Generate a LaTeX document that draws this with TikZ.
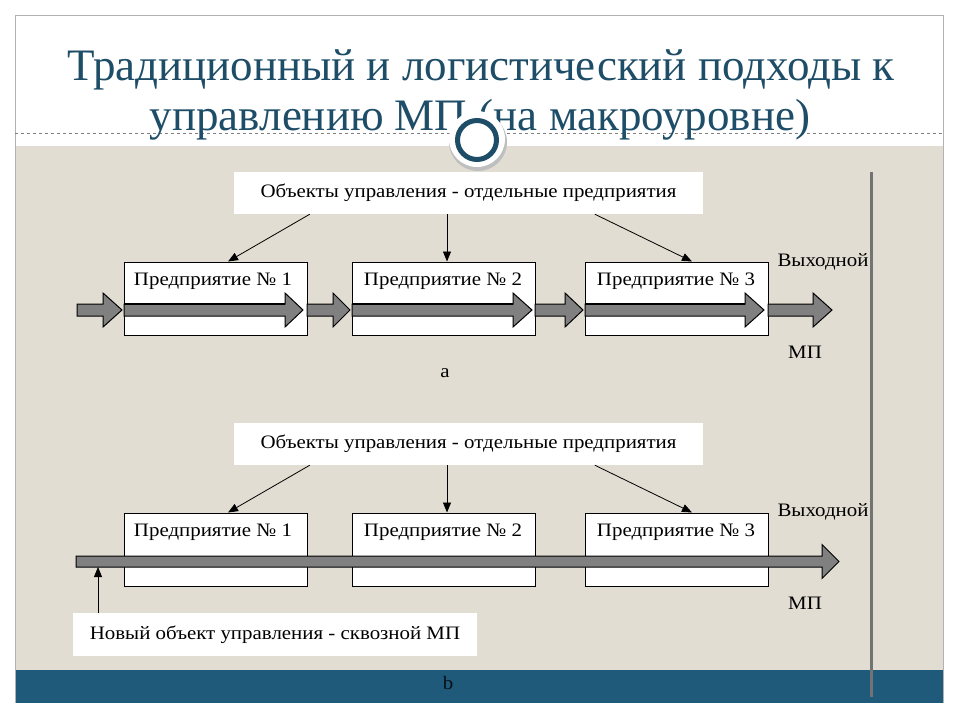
\documentclass[tikz,border=0pt]{standalone}
\usepackage{fontspec}
\setmainfont{Liberation Serif}
\newfontfamily\diagfont[FakeStretch=1.1]{Liberation Serif}
\newfontfamily\titlefont{Liberation Serif}
\usetikzlibrary{arrows.meta,calc}
\definecolor{beige}{HTML}{E2DDD3}
\definecolor{band}{HTML}{1F5A7A}
\definecolor{titlec}{HTML}{1E4D68}
\definecolor{fat}{HTML}{808080}
\newcommand{\fatarrow}[5]{%
  \draw[fill=fat, line width=1pt] (#1,#4-#5) -- (#2,#4-#5) -- (#2,#4-17) -- (#3,#4) -- (#2,#4+17) -- (#2,#4+#5) -- (#1,#4+#5) -- cycle;}
\begin{document}
\begin{tikzpicture}[x=1pt,y=-1pt,
  titletext/.style={text=titlec, font=\titlefont\fontsize{45}{50}\selectfont, inner sep=0pt, anchor=base},
  labelbox/.style={fill=white, minimum width=469pt, minimum height=42pt, inner sep=0pt, font=\diagfont\fontsize{19}{22}\selectfont},
  firmbox/.style={draw=black, line width=1pt, fill=white, minimum width=183pt, minimum height=73pt, inner sep=0pt},
  firmtext/.style={font=\diagfont\fontsize{19}{22}\selectfont, inner sep=0pt},
  smalltext/.style={font=\diagfont\fontsize{19}{22}\selectfont, inner sep=0pt},
  conn/.style={line width=0.8pt, -{Triangle[length=10pt,width=8pt]}}]
\useasboundingbox (0,0) rectangle (960,720);
\fill[white] (0,0) rectangle (960,720);
% slide background
\fill[beige] (15,146) rectangle (943,670);
\fill[band] (15,670) rectangle (943,703);
\draw[gray!60, line width=0.8pt] (15,703) -- (15,15) -- (943,15) -- (943,703);
\draw[gray, dashed, line width=0.8pt] (15,133) -- (943,133);
% title
\node[titletext] (t1) at (481,80) {Традиционный и логистический подходы к};
\node[titletext] (t2) at (480,130) {управлению МП (на макроуровне)};
% ornament circle
\fill[gray!50] (478,142) circle (29);
\fill[white] (477,139) circle (28);
\draw[titlec, line width=5pt] (477,140) circle (19.5);
% vertical line
\draw[gray!90!black, line width=3pt] (871,172) -- (871,697);
% ---------- part a ----------
\node[labelbox] (top1) at (468.5,193) {Объекты управления - отдельные предприятия};
\node[firmbox] (a1) at (215.5,298.5) {};
\node[firmbox] (a2) at (443.5,298.5) {};
\node[firmbox] (a3) at (676.5,298.5) {};
\node[firmtext] (a1t) at (213,281) {Предприятие № 1};
\node[firmtext] (a2t) at (443,281) {Предприятие № 2};
\node[firmtext] (a3t) at (676,281) {Предприятие № 3};
\draw[conn] ($(top1.south west)+(76,0)$) -- ($(a1.north)+(12.5,0)$);
\draw[conn] ($(top1.south)+(-21.5,0)$) -- ($(a2.north)+(3.5,0)$);
\draw[conn] ($(top1.south west)+(361,0)$) -- ($(a3.north)+(15.5,0)$);
\fatarrow{77}{103}{122}{310}{6}
\fatarrow{124}{285}{303}{310}{6}
\fatarrow{307}{333}{350}{310}{6}
\fatarrow{352}{513}{532}{310}{6}
\fatarrow{535}{565}{583}{310}{6}
\fatarrow{585}{745}{764}{310}{6}
\fatarrow{768}{813}{832}{310}{6}
\draw[line width=2.5pt] (124,304) -- (285,304) (352,304) -- (513,304) (585,304) -- (745,304);
\node[smalltext] (outa) at (823,262) {Выходной};
\node[smalltext] (mpa) at (805,352) {МП};
\node[smalltext] (la) at (445,373) {a};
% ---------- part b ----------
\node[labelbox] (top2) at (468.5,444) {Объекты управления - отдельные предприятия};
\node[firmbox] (b1) at (215.5,549.5) {};
\node[firmbox] (b2) at (443.5,549.5) {};
\node[firmbox] (b3) at (676.5,549.5) {};
\node[firmtext] (b1t) at (213,532) {Предприятие № 1};
\node[firmtext] (b2t) at (443,532) {Предприятие № 2};
\node[firmtext] (b3t) at (676,532) {Предприятие № 3};
\draw[conn] ($(top2.south west)+(76,0)$) -- ($(b1.north)+(12.5,0)$);
\draw[conn] ($(top2.south)+(-21.5,0)$) -- ($(b2.north)+(3.5,0)$);
\draw[conn] ($(top2.south west)+(361,0)$) -- ($(b3.north)+(15.5,0)$);
\fatarrow{76}{822}{839}{561.5}{5.5}
\node[smalltext] (outb) at (823,512) {Выходной};
\node[smalltext] (mpb) at (805,603) {МП};
\node[labelbox, minimum width=404pt, minimum height=43pt] (newobj) at (275,634.5) {Новый объект управления - сквозной МП};
\coordinate (tipb) at (98,567);
\draw[conn] (newobj.north west -| tipb) -- (tipb);
\node[smalltext, text=black!80!band] (lb) at (448,683) {b};
\end{tikzpicture}
\end{document}
